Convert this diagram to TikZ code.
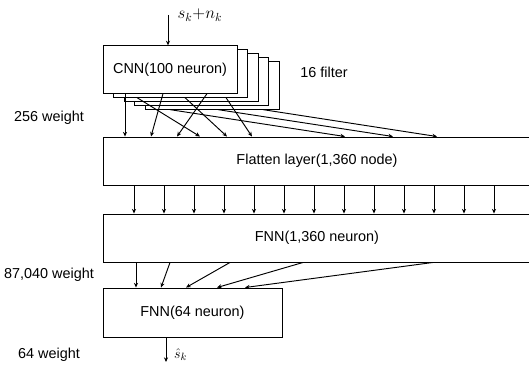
\documentclass[tikz,border=0pt]{standalone}
\usepackage{fontspec}
\setmainfont{Liberation Sans}
\usetikzlibrary{positioning, arrows.meta}

\begin{document}
\begin{tikzpicture}[x=0.03cm, y=-0.03cm, >={Stealth[length=4pt, width=3.5pt]},
    every node/.style={font=\fontsize{12.3}{14}\selectfont},
    layer/.style={draw, line width=0.8pt, fill=white, inner sep=0pt, minimum height=1.42cm},
    link/.style={->, line width=0.8pt}]
    \useasboundingbox (0,0) rectangle (529,367);

    \foreach \i in {4,3,2,1}
        \node[layer, minimum width=4.02cm] (cnn\i) at (170+10.5*\i, 69.5+4*\i) {};
    \node[layer, minimum width=4.02cm] (cnn0) at (170,69.5) {CNN(100 neuron)};
    \node[layer, minimum width=12.84cm, minimum height=1.44cm] (flat) at (317,161) {Flatten layer(1,360 node)};
    \node[layer, minimum width=12.84cm, minimum height=1.44cm] (fnn1) at (317,238) {FNN(1,360 neuron)};
    \node[layer, minimum width=5.37cm, minimum height=1.47cm] (fnn2) at (192.5,312.5) {FNN(64 neuron)};

    \node (filters) at (324,72) {16 filter};
    \node (w1) at (49,118) {256 weight};
    \node (w2) at (49,275) {87,040 weight};
    \node (w3) at (49,355) {64 weight};

    \coordinate (in) at (168,15);
    \coordinate (out) at (166,362);
    \node[right=8pt of in, inner sep=0pt, font=\fontsize{14}{16}\selectfont] (inlbl) {$s_k{+}n_k$};
    \node[anchor=north west, inner sep=0pt] (outlbl) at (174,348) {$\hat{s}_k$};

    \path[link]
    (in) edge (in |- cnn0.north)
    (out |- fnn2.south) edge (out)
    (125,0 |- cnn0.south) edge (125,0 |- flat.north)
    (163,0 |- cnn0.south) edge (151,0 |- flat.north)
    (137,0 |- cnn1.south) edge (200,0 |- flat.north)
    (207,0 |- cnn0.south) edge (177,0 |- flat.north)
    (185,0 |- cnn1.south) edge (227,0 |- flat.north)
    (226,0 |- cnn1.south) edge (252,0 |- flat.north)
    (170,0 |- cnn4.south) edge (345,0 |- flat.north)
    (218,0 |- cnn4.south) edge (393,0 |- flat.north)
    (263,0 |- cnn4.south) edge (437,0 |- flat.north)
    (136,0 |- fnn1.south) edge (136,0 |- fnn2.north)
    (170,0 |- fnn1.south) edge (161,0 |- fnn2.north)
    (230,0 |- fnn1.south) edge (186,0 |- fnn2.north)
    (303,0 |- fnn1.south) edge (217,0 |- fnn2.north)
    (433,0 |- fnn1.south) edge (245,0 |- fnn2.north);

    \foreach \i [evaluate=\i as \xx using 134+30*\i] in {0,...,12}
        \draw[link] (\xx,0 |- flat.south) -- (\xx,0 |- fnn1.north);
\end{tikzpicture}
\end{document}
